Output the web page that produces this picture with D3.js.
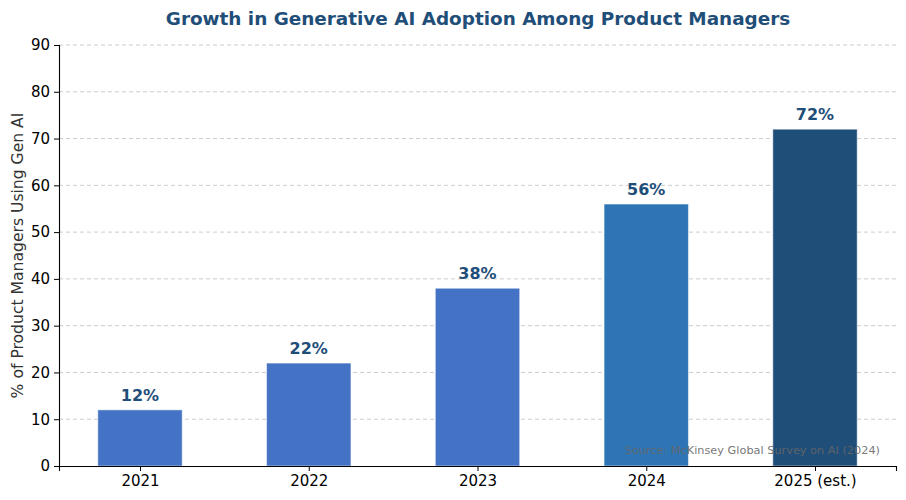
<!DOCTYPE html>
<html>
<head>
<script src="https://d3js.org/d3.v7.min.js"></script>
<style>
  body { margin: 0; background: #fff; }
  svg { font-family: "DejaVu Sans", sans-serif; }
</style>
</head>
<body>
<svg id="main"></svg>
<script>
  // data
  const years   = ["2021", "2022", "2023", "2024", "2025 (est.)"];
  const adoption = [12, 22, 38, 56, 72];
  const barColors = ["#4472C4", "#4472C4", "#4472C4", "#2E75B6", "#1F4E79"];
  const yTicks  = [0, 10, 20, 30, 40, 50, 60, 70, 80, 90];

  const width = 906, height = 500;
  const plotL = 59, plotR = 896, plotT = 45, plotB = 466;

  const svg = d3.select("#main").attr("width", width).attr("height", height);

  const x = d3.scaleLinear().domain([-0.48, 4.48]).range([plotL, plotR]);
  const y = d3.scaleLinear().domain([0, 90]).range([plotB, plotT]);
  const barW = x(0.5) - x(0);

  // grid
  svg.append("g")
    .selectAll("line")
    .data(yTicks.slice(1))
    .enter().append("line")
    .attr("x1", plotL).attr("x2", plotR)
    .attr("y1", d => y(d)).attr("y2", d => y(d))
    .attr("stroke", "#cccccc")
    .attr("stroke-width", 1)
    .attr("stroke-dasharray", "4,3");

  // bars
  svg.append("g")
    .selectAll("rect")
    .data(adoption)
    .enter().append("rect")
    .attr("x", (d, i) => x(i) - barW / 2)
    .attr("y", d => y(d))
    .attr("width", barW)
    .attr("height", d => y(0) - y(d))
    .attr("fill", (d, i) => barColors[i])
    .attr("stroke", "#ffffff")
    .attr("stroke-opacity", 0.5)
    .attr("stroke-width", 1);

  // value labels
  svg.append("g")
    .selectAll("text")
    .data(adoption)
    .enter().append("text")
    .attr("x", (d, i) => x(i))
    .attr("y", d => y(d) - 9)
    .attr("text-anchor", "middle")
    .attr("font-size", 16)
    .attr("font-weight", "bold")
    .attr("fill", "#1F4E79")
    .text(d => d + "%");

  // axes
  const yAxis = d3.axisLeft(y).tickValues(yTicks).tickSize(5).tickPadding(4);
  const gy = svg.append("g").attr("transform", `translate(${plotL},0)`).call(yAxis);
  gy.selectAll("text").attr("font-size", 15).attr("fill", "#000").style("font-family", "DejaVu Sans");
  gy.select(".domain").attr("stroke", "#000").attr("stroke-width", 1.1);

  const xAxis = d3.axisBottom(x).tickValues(d3.range(years.length))
    .tickFormat(i => years[i]).tickSize(5).tickPadding(4);
  const gx = svg.append("g").attr("transform", `translate(0,${plotB})`).call(xAxis);
  gx.selectAll("text").attr("font-size", 15).attr("fill", "#000").style("font-family", "DejaVu Sans");
  gx.select(".domain").attr("stroke", "#000").attr("stroke-width", 1.1);

  // titles
  svg.append("text")
    .attr("x", 478).attr("y", 25)
    .attr("text-anchor", "middle")
    .attr("font-size", 18.4)
    .attr("font-weight", "bold")
    .attr("fill", "#1F4E79")
    .text("Growth in Generative AI Adoption Among Product Managers");

  svg.append("text")
    .attr("transform", `translate(23,${(plotT + plotB) / 2}) rotate(-90)`)
    .attr("text-anchor", "middle")
    .attr("font-size", 15.6)
    .attr("fill", "#333333")
    .text("% of Product Managers Using Gen AI");

  svg.append("text")
    .attr("x", 880).attr("y", 454)
    .attr("text-anchor", "end")
    .attr("font-size", 11.3)
    .attr("fill", "#666666")
    .attr("fill-opacity", 0.9)
    .text("Source: McKinsey Global Survey on AI (2024)");
</script>
</body>
</html>
